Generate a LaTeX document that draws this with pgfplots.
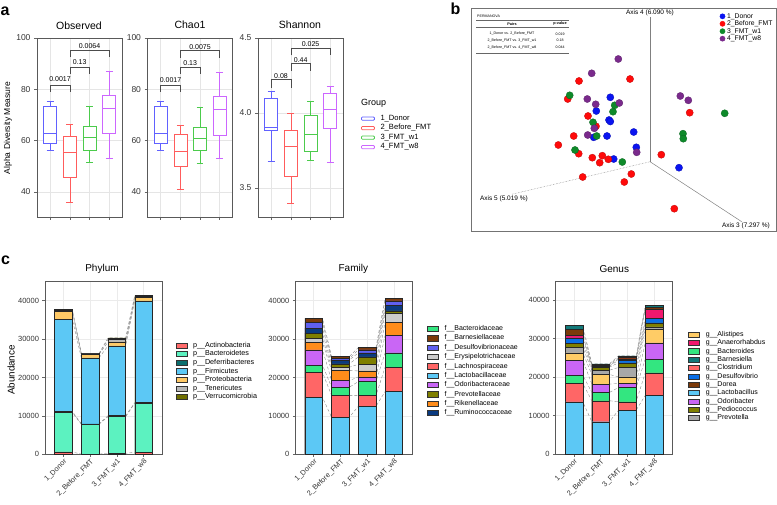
\documentclass[border=0pt]{standalone}
\usepackage{fontspec}
\setmainfont{Liberation Sans}
\usepackage{pgfplots}
\pgfplotsset{compat=1.18}
\usepackage{pgfplotstable}
\usepgfplotslibrary{statistics}

% group colours (a, b)
\definecolor{gDonor}{HTML}{6161FF}
\definecolor{gBefore}{HTML}{FF5C5C}
\definecolor{gW1}{HTML}{4CCB4C}
\definecolor{gW8}{HTML}{CC66FF}
\definecolor{pDonor}{HTML}{0A14F0}
\definecolor{pBefore}{HTML}{FF0A0A}
\definecolor{pW1}{HTML}{0E8A2A}
\definecolor{pW8}{HTML}{7A2A8C}
% phylum
\definecolor{phAct}{HTML}{FF6B6B}
\definecolor{phBac}{HTML}{5CF2C0}
\definecolor{phDef}{HTML}{0B6E6E}
\definecolor{phFir}{HTML}{5CC8F5}
\definecolor{phPro}{HTML}{FFC966}
\definecolor{phTen}{HTML}{B8B8B8}
\definecolor{phVer}{HTML}{6E6E00}
% family
\definecolor{faBact}{HTML}{33E680}
\definecolor{faBarn}{HTML}{7B3A0A}
\definecolor{faDesu}{HTML}{6060F0}
\definecolor{faErys}{HTML}{CCCCCC}
\definecolor{faLach}{HTML}{FF6666}
\definecolor{faLact}{HTML}{5CC8F5}
\definecolor{faOdor}{HTML}{C966F5}
\definecolor{faPrev}{HTML}{7F7F00}
\definecolor{faRike}{HTML}{FF8C1A}
\definecolor{faRumi}{HTML}{0A3A80}
% genus
\definecolor{geAlis}{HTML}{FFCC66}
\definecolor{geAnae}{HTML}{F0186E}
\definecolor{geBact}{HTML}{33E680}
\definecolor{geBarn}{HTML}{127A7A}
\definecolor{geClos}{HTML}{FF6666}
\definecolor{geDesu}{HTML}{0A6EE6}
\definecolor{geDore}{HTML}{7B3A0A}
\definecolor{geLact}{HTML}{5CC8F5}
\definecolor{geOdor}{HTML}{C966F5}
\definecolor{gePedi}{HTML}{7F7F00}
\definecolor{gePrev}{HTML}{A8A8A8}

% cumulative tops of the stacks, each bar twice (left/right edge, e=-1/1)
\pgfplotstableread{
x e c1 c2 c3 c4 c5 c6 c7
1 -1 600 10850 11200 35200 37250 37500 37750
1 1 600 10850 11200 35200 37250 37500 37750
2 -1 60 7800 7950 25100 25950 26150 26250
2 1 60 7800 7950 25100 25950 26150 26250
3 -1 250 9800 10050 28250 29250 29900 30300
3 1 250 9800 10050 28250 29250 29900 30300
4 -1 550 13250 13450 39950 40850 41200 41350
4 1 550 13250 13450 39950 40850 41200 41350
}\phylum
\pgfplotstableread{
x e c1 c2 c3 c4 c5 c6 c7 c8 c9 c10
1 -1 14760 21270 23180 27170 29080 30210 31510 32810 34290 35410
1 1 14760 21270 23180 27170 29080 30210 31510 32810 34290 35410
2 -1 9630 15280 17450 19180 21790 22650 23520 24560 24910 25430
2 1 9630 15280 17450 19180 21790 22650 23520 24560 24910 25430
3 -1 12500 15280 18920 20140 21700 23440 25350 26390 27170 27780
3 1 12500 15280 18920 20140 21700 23440 25350 26390 27170 27780
4 -1 16320 22650 26390 30900 34370 36720 37320 38710 39930 40620
4 1 16320 22650 26390 30900 34370 36720 37320 38710 39930 40620
}\family
\pgfplotstableread{
x e c1 c2 c3 c4 c5 c6 c7 c8 c9 c10 c11
1 -1 13600 18360 20520 24420 26330 27710 28750 30220 30920 32390 33510
1 1 13600 18360 20520 24420 26330 27710 28750 30220 30920 32390 33510
2 -1 8400 13860 16020 18190 20700 21820 22600 22860 23040 23300 23470
2 1 8400 13860 16020 18190 20700 21820 22600 22860 23040 23300 23470
3 -1 11430 13600 17320 18360 20090 22520 23730 24420 24770 25110 25550
3 1 11430 13600 17320 18360 20090 22520 23730 24420 24770 25110 25550
4 -1 15240 21130 24680 28920 32390 33080 34120 35250 37590 38100 38710
4 1 15240 21130 24680 28920 32390 33080 34120 35250 37590 38100 38710
}\genus

\pgfplotsset{
  /pgf/number format/assume math mode=true,
  aax/.style={scale only axis, width=85pt, height=179pt, xmin=0.33, xmax=4.65,
    xtick={1,2,3,4}, xticklabels={}, tick align=outside, tick pos=left,
    major tick length=3pt, tick style={black!60, line width=0.6pt},
    xmajorgrids, ymajorgrids, grid style={black!10, line width=0.7pt},
    axis line style={black!65, line width=0.9pt},
    tick label style={font=\fontsize{8.5}{10}\selectfont, black!80},
    boxplot/draw direction=y},
  cax/.style={scale only axis, width=117pt, height=172.5pt, xmin=0.31, xmax=4.69,
    ymin=0, ymax=44900, xtick={1,2,3,4},
    xticklabels={1\_Donor,2\_Before\_FMT,3\_FMT\_w1,4\_FMT\_w8},
    ytick={0,10000,20000,30000,40000}, scaled y ticks=false,
    yticklabel style={/pgf/number format/1000 sep={}},
    tick align=outside, tick pos=left, major tick length=2.5pt,
    tick style={black!60, line width=0.5pt},
    xmajorgrids, ymajorgrids, grid style={black!8, line width=0.6pt},
    axis line style={black!65, line width=0.7pt},
    tick label style={font=\fontsize{7.5}{9}\selectfont, black!80},
    x tick label style={rotate=45, anchor=north east, inner sep=1pt,
      font=\fontsize{7.3}{9}\selectfont},
    legend cell align=left,
    legend image code/.code={\filldraw[#1, draw=black!80, line width=0.4pt] (0pt,-2.6pt) rectangle (11pt,2.6pt);}},
  stk/.style={ybar, bar width=0.66, bar shift=0pt, draw=black!85, line width=0.4pt, forget plot},
  conn/.style={gray, densely dashed, line width=0.35pt, forget plot, mark=none},
  br/.style={black!70, line width=0.6pt, forget plot},
}
\newcommand{\bx}[7]{\addplot[boxplot prepared={draw direction=y, draw position=#1,
  lower whisker=#2, lower quartile=#3, median=#4, upper quartile=#5, upper whisker=#6,
  box extend=0.66, whisker extend=0.35}, draw=#7, line width=0.6pt, fill=white,
  forget plot] coordinates {};}
\newcommand{\fs}[1]{\fontsize{#1}{#1}\selectfont}

\begin{document}
\begin{tikzpicture}
\useasboundingbox (0pt,0pt) rectangle (777pt,-505pt);
\node[anchor=base west, font=\fs{16}\bfseries, inner sep=0pt] at (0.5pt,-15.5pt) {a};
\node[anchor=base west, font=\fs{16}\bfseries, inner sep=0pt] at (450.5pt,-15pt) {b};
\node[anchor=base west, font=\fs{16}\bfseries, inner sep=0pt] at (1pt,-265pt) {c};

% ---------------- a: alpha diversity
\node[font=\fs{10.5}] at (79pt,-26pt) {Observed};
\node[font=\fs{10.5}] at (190pt,-25pt) {Chao1};
\node[font=\fs{10.5}] at (300pt,-25pt) {Shannon};
\node[font=\fs{8.5}, rotate=90] at (8pt,-128pt) {Alpha Diversity Measure};

\begin{axis}[aax, at={(37pt,-217pt)}, ymin=30.2, ymax=100, ytick={40,60,80,100}]
\bx{1}{56.2}{59.1}{62.7}{73.2}{75.2}{gDonor}
\bx{2}{36.1}{45.6}{55.6}{61.7}{66.3}{gBefore}
\bx{3}{51.4}{56.4}{61.1}{65.4}{73.2}{gW1}
\bx{4}{53.2}{62.7}{72.5}{77.6}{87.0}{gW8}
\addplot[br] coordinates {(1,79) (1,81.6) (2,81.6) (2,79)};
\addplot[br] coordinates {(2,86) (2,88.5) (3,88.5) (3,86)};
\addplot[br] coordinates {(2,92.5) (2,95.3) (4,95.3) (4,92.5)};
\node[font=\fs{7}] at (axis cs:1.5,83.9) {0.0017};
\node[font=\fs{7}] at (axis cs:2.5,90.7) {0.13};
\node[font=\fs{7}] at (axis cs:3,97) {0.0064};
\end{axis}

\begin{axis}[aax, at={(147.5pt,-217pt)}, ymin=30.2, ymax=100, ytick={40,60,80,100}]
\bx{1}{56.2}{59.1}{62.7}{73.2}{75.2}{gDonor}
\bx{2}{41.1}{50.0}{56.0}{62.3}{65.8}{gBefore}
\bx{3}{51.1}{56.1}{61.0}{65.0}{72.8}{gW1}
\bx{4}{52.9}{62.2}{72.1}{77.1}{86.8}{gW8}
\addplot[br] coordinates {(1,79) (1,81.6) (2,81.6) (2,79)};
\addplot[br] coordinates {(2,85.9) (2,88.6) (3,88.6) (3,85.9)};
\addplot[br] coordinates {(2,92.3) (2,95.3) (4,95.3) (4,92.3)};
\node[font=\fs{7}] at (axis cs:1.5,83.7) {0.0017};
\node[font=\fs{7}] at (axis cs:2.5,90.1) {0.13};
\node[font=\fs{7}] at (axis cs:3,96.5) {0.0075};
\end{axis}

\begin{axis}[aax, at={(258pt,-217pt)}, ymin=3.307, ymax=4.5, ytick={3.5,4.0,4.5},
  yticklabel style={/pgf/number format/.cd, fixed, fixed zerofill, precision=1},
  legend cell align=left,
  legend style={at={(1.212,0.570)}, anchor=north west, draw=none, fill=none,
    inner sep=0pt, outer sep=0pt, font=\fs{7.6}, row sep=2.2pt, column sep=5.7pt,
    nodes={inner sep=0pt, text height=5.5pt, text depth=1.8pt}},
  legend image code/.code={\draw[#1, line width=0.8pt, rounded corners=1pt, fill=white] (0pt,-1.7pt) rectangle (13pt,1.7pt);}]
\bx{1}{3.675}{3.884}{3.907}{4.097}{4.144}{gDonor}
\bx{2}{3.40}{3.575}{3.777}{3.884}{4.0}{gBefore}
\bx{3}{3.684}{3.742}{3.86}{3.984}{4.08}{gW1}
\bx{4}{3.673}{3.90}{4.022}{4.131}{4.175}{gW8}
\addplot[br] coordinates {(1,4.17) (1,4.222) (2,4.222) (2,4.17)};
\addplot[br] coordinates {(2,4.28) (2,4.329) (3,4.329) (3,4.28)};
\addplot[br] coordinates {(2,4.384) (2,4.433) (4,4.433) (4,4.384)};
\node[font=\fs{7}] at (axis cs:1.5,4.249) {0.08};
\node[font=\fs{7}] at (axis cs:2.5,4.355) {0.44};
\node[font=\fs{7}] at (axis cs:3,4.462) {0.025};
\addlegendimage{gDonor}\addlegendentry{1\_Donor}
\addlegendimage{gBefore}\addlegendentry{2\_Before\_FMT}
\addlegendimage{gW1}\addlegendentry{3\_FMT\_w1}
\addlegendimage{gW8}\addlegendentry{4\_FMT\_w8}
\end{axis}
\node[anchor=base west, font=\fs{9}, inner sep=0pt] at (361pt,-106pt) {Group};

% ---------------- b: PCoA
\begin{axis}[scale only axis, at={(471pt,-231pt)}, width=305.3pt, height=223pt,
  xmin=471, xmax=776.3, ymin=-231, ymax=-8, xtick=\empty, ytick=\empty,
  axis line style={black!55, line width=0.6pt}, clip=false,
  legend style={at={(0.8146,0.977)}, anchor=north west, draw=none, fill=none,
    inner sep=0pt, outer sep=0pt, font=\fs{6.8}, row sep=1.05pt, column sep=1.8pt,
    nodes={inner sep=0pt, text height=5pt, text depth=1.4pt}},
  legend cell align=left,
  legend image code/.code={\fill[#1] (2.6pt,0pt) circle (2.6pt);}]
\addplot[black!50, line width=0.5pt, forget plot] coordinates {(650,-17) (650,-161.7)};
\addplot[black!50, line width=0.5pt, forget plot] coordinates {(650,-161.7) (741.7,-221.7)};
\addplot[black!50, densely dotted, line width=0.5pt, forget plot] coordinates {(650,-161.7) (511.7,-194.3)};
\addplot[only marks, mark=*, mark size=3.6pt, color=pDonor, mark options={draw=pDonor!75!black, line width=0.3pt}]
  coordinates {(610.3,-97.3) (596.3,-111) (609,-120) (610.3,-121.5) (607,-136) (593.7,-137.3)
   (633.7,-132) (636.3,-147.3) (613.7,-159) (679,-167.7)};
\addlegendentry{1\_Donor}
\addplot[only marks, mark=*, mark size=3.6pt, color=pBefore, mark options={draw=pBefore!75!black, line width=0.3pt}]
  coordinates {(579,-81) (630,-79) (567.7,-99) (588,-116) (596,-126.3) (573.7,-136)
   (558.3,-145) (578.7,-153.7) (592.3,-157.7) (602.3,-155.7) (599.7,-162.7) (608.3,-159.3)
   (582.7,-177) (631.3,-174) (624.3,-182) (661.3,-154.7) (689.7,-112.7) (674.3,-208.7)};
\addlegendentry{2\_Before\_FMT}
\addplot[only marks, mark=*, mark size=3.6pt, color=pW1, mark options={draw=pW1!75!black, line width=0.3pt}]
  coordinates {(569.7,-95.3) (614.7,-105.3) (613,-111.7) (593,-122.3) (596.7,-136)
   (575,-150) (622.3,-162) (683,-133.7) (683.3,-138.7) (724.7,-113.3)};
\addlegendentry{3\_FMT\_w1}
\addplot[only marks, mark=*, mark size=3.6pt, color=pW8, mark options={draw=pW8!75!black, line width=0.3pt}]
  coordinates {(618.3,-59) (591.7,-73.3) (587.3,-99) (595.7,-104.3) (619.3,-103)
   (594.3,-128.3) (587.7,-135) (636.7,-152.3) (680.3,-96) (688.3,-100.3)};
\addlegendentry{4\_FMT\_w8}
\node[font=\fs{6.5}, fill=white, inner sep=0.5pt] at (axis cs:650,-13) {Axis 4 (6.090 \%)};
\node[font=\fs{6.5}, inner sep=0.5pt] at (axis cs:504,-199) {Axis 5 (5.019 \%)};
\node[font=\fs{6.5}, inner sep=0.5pt] at (axis cs:746,-225.5) {Axis 3 (7.297 \%)};
\end{axis}
% PERMANOVA table
\node[anchor=west, font=\fs{3.6}, inner sep=0pt] at (477pt,-16.5pt) {PERMANOVA};
\draw[black!60, line width=0.4pt] (476pt,-20.5pt) -- (569pt,-20.5pt);
\node[font=\fs{3.8}\bfseries, inner sep=0pt] at (512pt,-24pt) {Pairs};
\node[font=\fs{3.8}\bfseries, inner sep=0pt] at (560pt,-24pt) {p-value};
\draw[black!60, line width=0.4pt] (476pt,-27.3pt) -- (569pt,-27.3pt);
\node[font=\fs{3.6}, inner sep=0pt] at (512pt,-33.8pt) {1\_Donor vs. 2\_Before\_FMT};
\node[font=\fs{3.6}, inner sep=0pt] at (560pt,-33.8pt) {0.019};
\node[font=\fs{3.6}, inner sep=0pt] at (512pt,-40.6pt) {2\_Before\_FMT vs. 3\_FMT\_w1};
\node[font=\fs{3.6}, inner sep=0pt] at (560pt,-40.6pt) {0.18};
\node[font=\fs{3.6}, inner sep=0pt] at (512pt,-47.3pt) {2\_Before\_FMT vs. 4\_FMT\_w8};
\node[font=\fs{3.6}, inner sep=0pt] at (560pt,-47.3pt) {0.044};
\draw[black!60, line width=0.5pt] (476pt,-53.5pt) -- (569pt,-53.5pt);

% ---------------- c: stacked abundances
\node[font=\fs{10}] at (102pt,-269pt) {Phylum};
\node[font=\fs{10}] at (353.3pt,-269pt) {Family};
\node[font=\fs{10}] at (614.3pt,-269pt) {Genus};
\node[font=\fs{9.8}, rotate=90] at (11pt,-370pt) {Abundance};

\begin{axis}[cax, at={(45pt,-454.3pt)},
  legend style={at={(1.12,0.651)}, anchor=north west, draw=none, fill=none,
    inner sep=0pt, outer sep=0pt, font=\fs{7.2}, row sep=1.8pt, column sep=5.6pt,
    nodes={inner sep=0pt, text height=5.2pt, text depth=1.6pt}}]
\pgfplotsinvokeforeach{1,...,7}{\addplot[conn] table[x expr=\thisrow{x}+0.33*\thisrow{e}, y=c#1]{\phylum};}
\addplot[stk, fill=phVer] table[x=x, y=c7]{\phylum};
\addplot[stk, fill=phTen] table[x=x, y=c6]{\phylum};
\addplot[stk, fill=phPro] table[x=x, y=c5]{\phylum};
\addplot[stk, fill=phFir] table[x=x, y=c4]{\phylum};
\addplot[stk, fill=phDef] table[x=x, y=c3]{\phylum};
\addplot[stk, fill=phBac] table[x=x, y=c2]{\phylum};
\addplot[stk, fill=phAct] table[x=x, y=c1]{\phylum};
\addlegendimage{color=phAct}\addlegendentry{p\_\_Actinobacteria}
\addlegendimage{color=phBac}\addlegendentry{p\_\_Bacteroidetes}
\addlegendimage{color=phDef}\addlegendentry{p\_\_Deferribacteres}
\addlegendimage{color=phFir}\addlegendentry{p\_\_Firmicutes}
\addlegendimage{color=phPro}\addlegendentry{p\_\_Proteobacteria}
\addlegendimage{color=phTen}\addlegendentry{p\_\_Tenericutes}
\addlegendimage{color=phVer}\addlegendentry{p\_\_Verrucomicrobia}
\end{axis}

\begin{axis}[cax, at={(295.3pt,-454.3pt)},
  legend style={at={(1.128,0.747)}, anchor=north west, draw=none, fill=none,
    inner sep=0pt, outer sep=0pt, font=\fs{7}, row sep=2.55pt, column sep=6pt,
    nodes={inner sep=0pt, text height=5.2pt, text depth=1.6pt}}]
\pgfplotsinvokeforeach{1,...,10}{\addplot[conn] table[x expr=\thisrow{x}+0.33*\thisrow{e}, y=c#1]{\family};}
\addplot[stk, fill=faBarn] table[x=x, y=c10]{\family};
\addplot[stk, fill=faDesu] table[x=x, y=c9]{\family};
\addplot[stk, fill=faRumi] table[x=x, y=c8]{\family};
\addplot[stk, fill=faPrev] table[x=x, y=c7]{\family};
\addplot[stk, fill=faErys] table[x=x, y=c6]{\family};
\addplot[stk, fill=faRike] table[x=x, y=c5]{\family};
\addplot[stk, fill=faOdor] table[x=x, y=c4]{\family};
\addplot[stk, fill=faBact] table[x=x, y=c3]{\family};
\addplot[stk, fill=faLach] table[x=x, y=c2]{\family};
\addplot[stk, fill=faLact] table[x=x, y=c1]{\family};
\addlegendimage{color=faBact}\addlegendentry{f\_\_Bacteroidaceae}
\addlegendimage{color=faBarn}\addlegendentry{f\_\_Barnesiellaceae}
\addlegendimage{color=faDesu}\addlegendentry{f\_\_Desulfovibrionaceae}
\addlegendimage{color=faErys}\addlegendentry{f\_\_Erysipelotrichaceae}
\addlegendimage{color=faLach}\addlegendentry{f\_\_Lachnospiraceae}
\addlegendimage{color=faLact}\addlegendentry{f\_\_Lactobacillaceae}
\addlegendimage{color=faOdor}\addlegendentry{f\_\_Odoribacteraceae}
\addlegendimage{color=faPrev}\addlegendentry{f\_\_Prevotellaceae}
\addlegendimage{color=faRike}\addlegendentry{f\_\_Rikenellaceae}
\addlegendimage{color=faRumi}\addlegendentry{f\_\_Ruminococcaceae}
\end{axis}

\begin{axis}[cax, at={(555.5pt,-454pt)},
  legend style={at={(1.13,0.712)}, anchor=north west, draw=none, fill=none,
    inner sep=0pt, outer sep=0pt, font=\fs{7}, row sep=1.55pt, column sep=6.7pt,
    nodes={inner sep=0pt, text height=5.2pt, text depth=1.6pt}}]
\pgfplotsinvokeforeach{1,...,11}{\addplot[conn] table[x expr=\thisrow{x}+0.33*\thisrow{e}, y=c#1]{\genus};}
\addplot[stk, fill=geBarn] table[x=x, y=c11]{\genus};
\addplot[stk, fill=geDore] table[x=x, y=c10]{\genus};
\addplot[stk, fill=geAnae] table[x=x, y=c9]{\genus};
\addplot[stk, fill=geDesu] table[x=x, y=c8]{\genus};
\addplot[stk, fill=gePedi] table[x=x, y=c7]{\genus};
\addplot[stk, fill=gePrev] table[x=x, y=c6]{\genus};
\addplot[stk, fill=geAlis] table[x=x, y=c5]{\genus};
\addplot[stk, fill=geOdor] table[x=x, y=c4]{\genus};
\addplot[stk, fill=geBact] table[x=x, y=c3]{\genus};
\addplot[stk, fill=geClos] table[x=x, y=c2]{\genus};
\addplot[stk, fill=geLact] table[x=x, y=c1]{\genus};
\addlegendimage{color=geAlis}\addlegendentry{g\_\_Alistipes}
\addlegendimage{color=geAnae}\addlegendentry{g\_\_Anaerorhabdus}
\addlegendimage{color=geBact}\addlegendentry{g\_\_Bacteroides}
\addlegendimage{color=geBarn}\addlegendentry{g\_\_Barnesiella}
\addlegendimage{color=geClos}\addlegendentry{g\_\_Clostridium}
\addlegendimage{color=geDesu}\addlegendentry{g\_\_Desulfovibrio}
\addlegendimage{color=geDore}\addlegendentry{g\_\_Dorea}
\addlegendimage{color=geLact}\addlegendentry{g\_\_Lactobacillus}
\addlegendimage{color=geOdor}\addlegendentry{g\_\_Odoribacter}
\addlegendimage{color=gePedi}\addlegendentry{g\_\_Pediococcus}
\addlegendimage{color=gePrev}\addlegendentry{g\_\_Prevotella}
\end{axis}
\end{tikzpicture}
\end{document}
